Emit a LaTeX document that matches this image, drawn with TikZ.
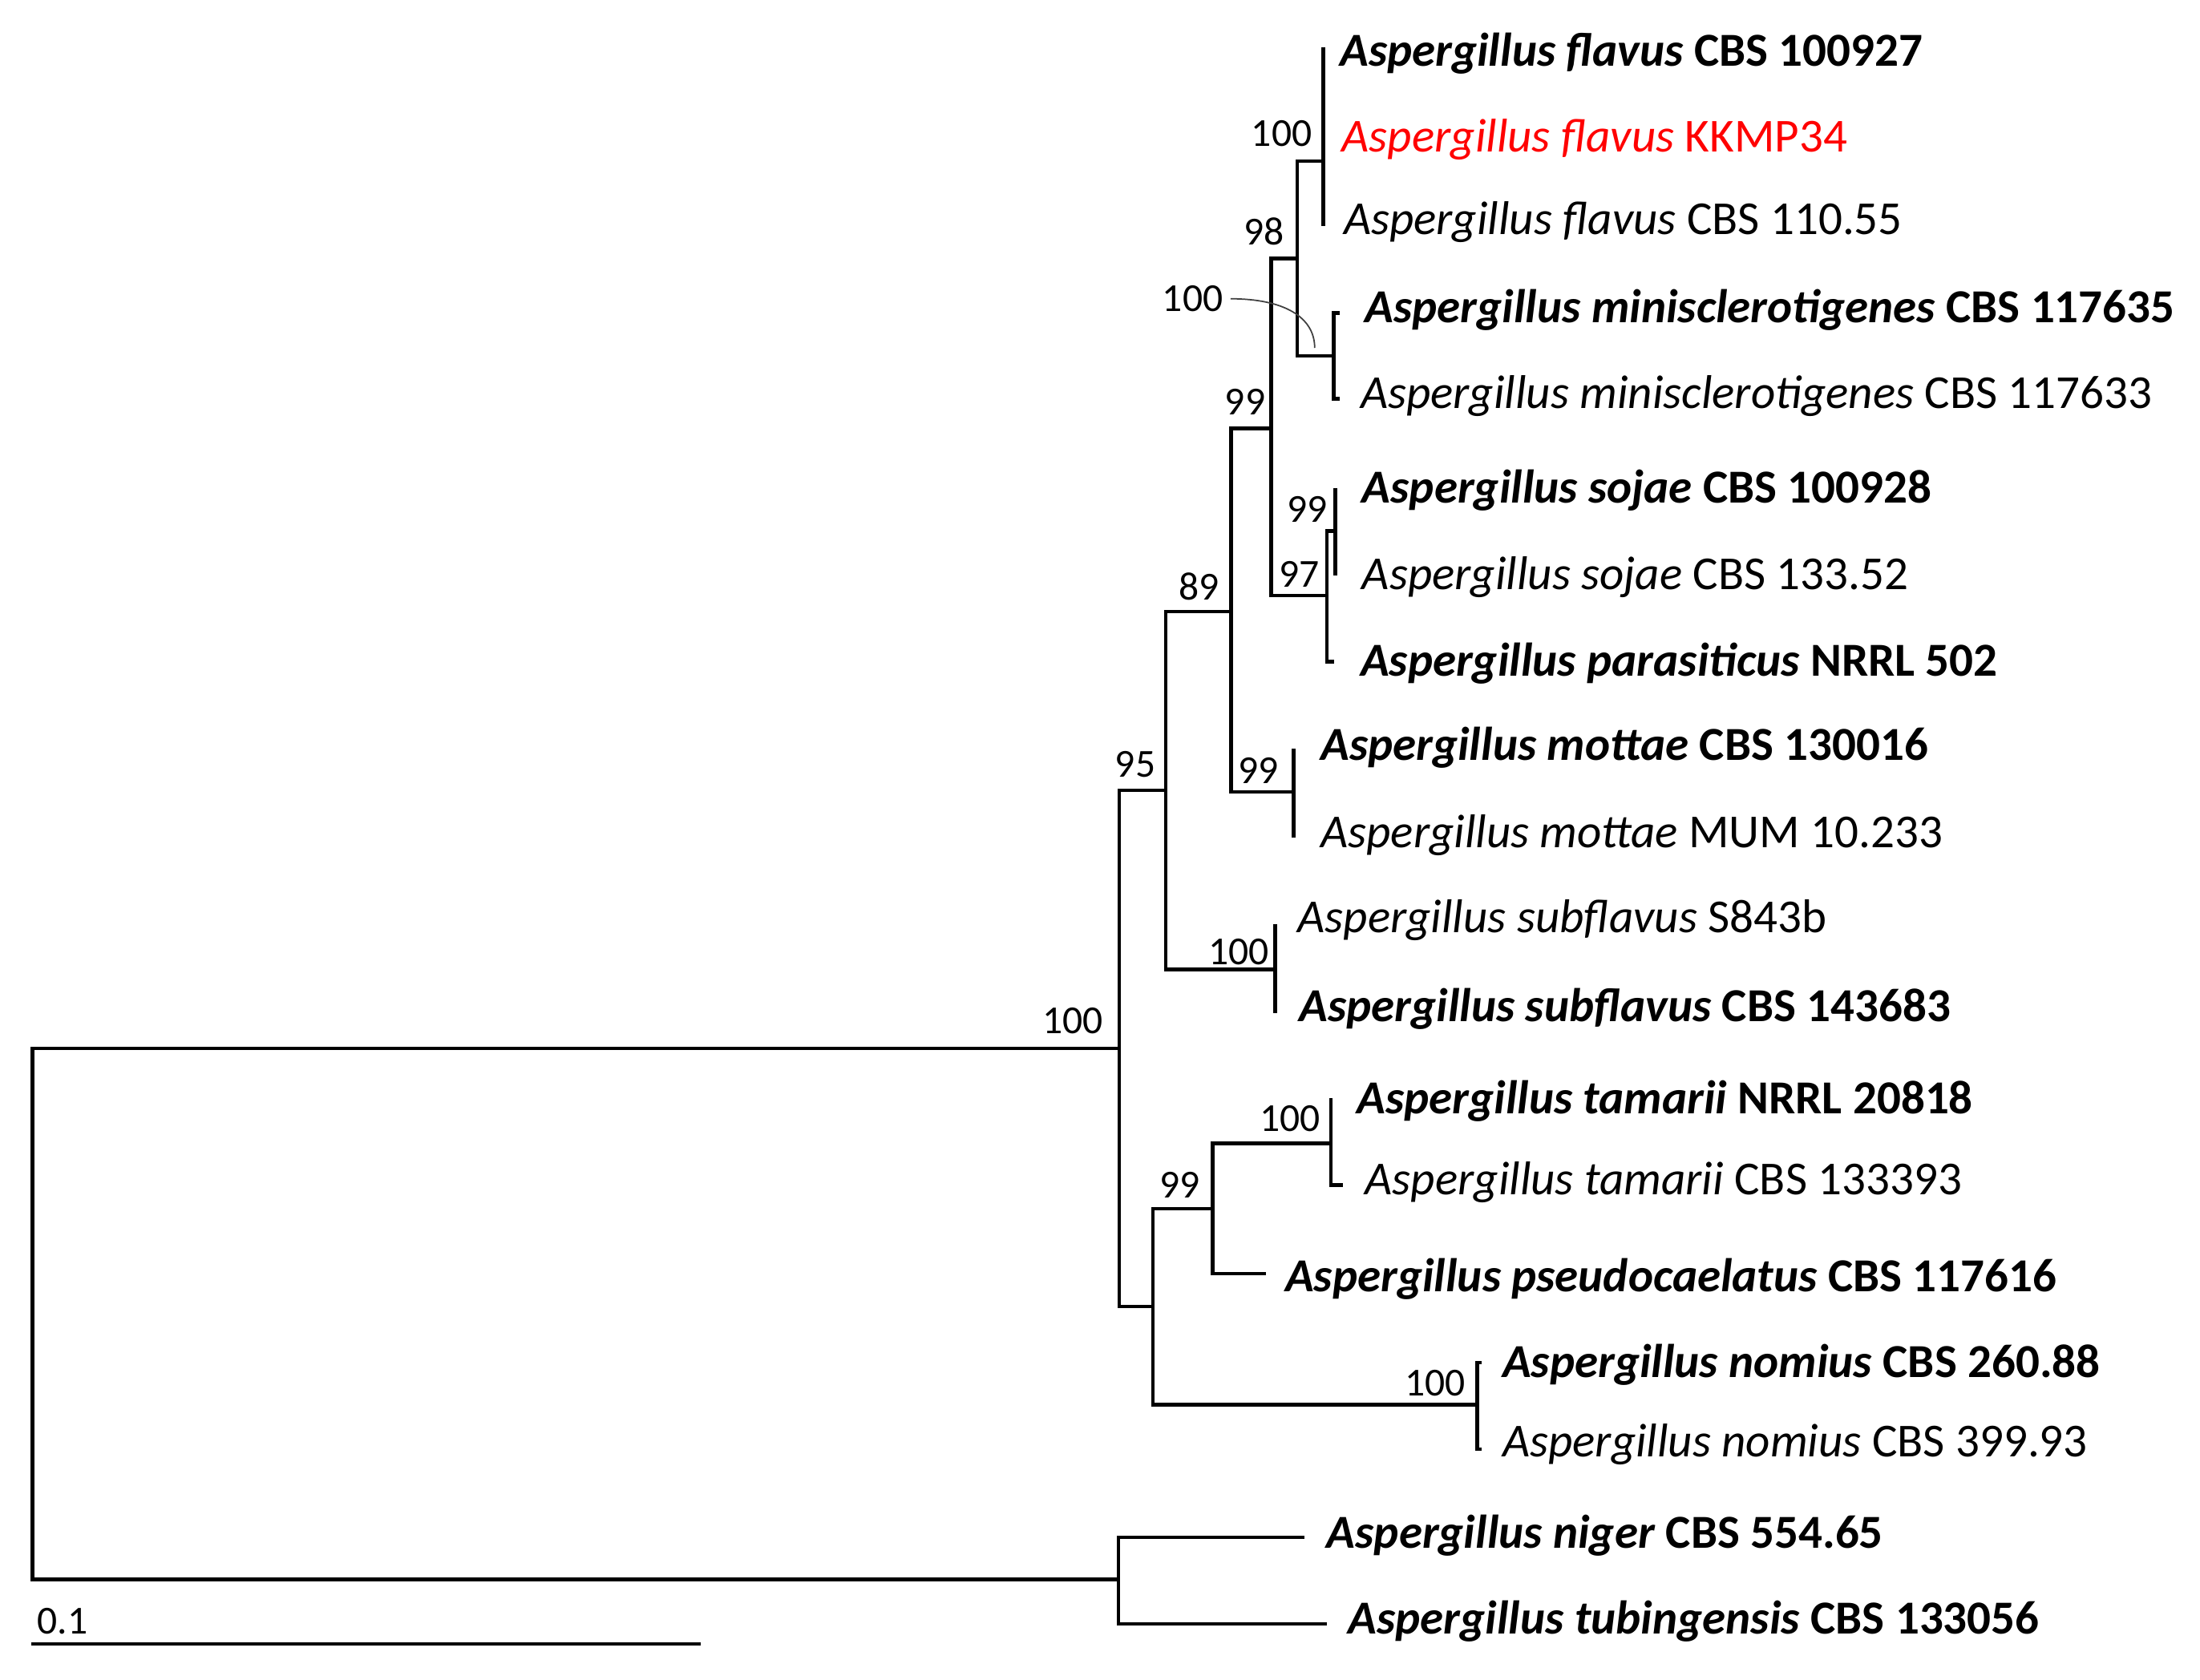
\documentclass[tikz,border=0pt]{standalone}
\usepackage{fontspec}
\setmainfont{Carlito}
\usetikzlibrary{calc,positioning}

\tikzset{
  br/.style={line width=1.3pt},
  tipbold/.style={anchor=west, inner sep=0pt, font=\fontsize{16.8}{20}\selectfont\bfseries},
  tipreg/.style={anchor=west, inner sep=0pt, font=\fontsize{16.8}{20}\selectfont},
  boot/.style={anchor=east, inner sep=0pt, font=\fontsize{14.1}{17}\selectfont},
}
\newcommand{\asp}[1]{\textit{Aspergillus #1}}

\begin{document}
\begin{tikzpicture}[x=0.0175cm, y=-0.0175cm]
\useasboundingbox (0,0) rectangle (1568,1197.7);

% inner nodes of the tree
\coordinate (root) at (23,937);
\coordinate (nA) at (797.6,747.4);
\coordinate (nOut) at (797.2,1126.1);
\coordinate (n95) at (830.9,563.4);
\coordinate (n89) at (877.5,436.1);
\coordinate (n99a) at (905.9,305.4);
\coordinate (n98) at (924.5,184.3);
\coordinate (nFlav) at (943.1,114.8);
\coordinate (nMin) at (950.7,253.7);
\coordinate (n97) at (945.7,424.6);
\coordinate (nSoj) at (951.8,378.6);
\coordinate (nMot) at (921.9,564.5);
\coordinate (nSub) at (908.7,691.2);
\coordinate (nB) at (821.7,931.4);
\coordinate (n99b) at (864.3,861.8);
\coordinate (nTam) at (948.5,815.2);
\coordinate (nNom) at (1053,1001.4);

\foreach \a/\b in {root/nA, root/nOut, nA/n95, nA/nB, n95/n89, n95/nSub,
  n89/n99a, n89/nMot, n99a/n98, n99a/n97, n98/nFlav, n98/nMin,
  n97/nSoj, nB/n99b, nB/nNom, n99b/nTam}
{
    \draw[br] (\a) |- (\b);
}

% type strains (bold)
\foreach \nm/\pa/\tx/\ty/\lx/\ly/\txt in
{flavA/nFlav/943.1/33.9/954.6/38.4/{\asp{flavus} CBS 100927},
 minA/nMin/955/223/972.6/221.1/{\asp{minisclerotigenes} CBS 117635},
 sojA/nSoj/951.8/348/970.4/349.6/{\asp{sojae} CBS 100928},
 paras/n97/951/471.6/969.3/472.9/{\asp{parasiticus} NRRL 502},
 motA/nMot/921.9/533.9/940.9/533/{\asp{mottae} CBS 130016},
 subB/nSub/908.7/722.3/925.6/719.2/{\asp{subflavus} CBS 143683},
 tamA/nTam/948.5/783.1/966.7/784.8/{\asp{tamarii} NRRL 20818},
 pseudo/n99b/902/908/915.7/912/{\asp{pseudocaelatus} CBS 117616},
 nomA/nNom/1055.7/971.5/1070.5/973.2/{\asp{nomius} CBS 260.88},
 niger/nOut/929.9/1096.1/945.2/1094.6/{\asp{niger} CBS 554.65},
 tub/nOut/945.7/1157.8/960.6/1155.8/{\asp{tubingensis} CBS 133056}}
{
    \coordinate (t\nm) at (\tx,\ty);
    \node[tipbold] (\nm) at (\lx,\ly) {\txt};
    \draw[br] (\pa) |- (t\nm);
}

% other strains
\foreach \nm/\pa/\tx/\ty/\lx/\ly/\txt in
{flavC/nFlav/943.1/161.4/957.3/158.4/{\asp{flavus} CBS 110.55},
 minB/nMin/955/284.3/969.3/282.4/{\asp{minisclerotigenes} CBS 117633},
 sojB/nSoj/951.8/410.3/970.4/411.7/{\asp{sojae} CBS 133.52},
 motB/nMot/921.9/597.3/940.9/595.4/{\asp{mottae} MUM 10.233},
 subA/nSub/908.7/658.9/924.5/655.8/{\asp{subflavus} S843b},
 tamB/nTam/957.3/844.7/972.6/842.8/{\asp{tamarii} CBS 133393},
 nomB/nNom/1055.7/1033.1/1070.5/1030/{\asp{nomius} CBS 399.93}}
{
    \coordinate (t\nm) at (\tx,\ty);
    \node[tipreg] (\nm) at (\lx,\ly) {\txt};
    \draw[br] (\pa) |- (t\nm);
}

% the isolate
\coordinate (tflavB) at (943.1,97);
\node[tipreg, text=red] (flavB) at (956,99.4) {\asp{flavus} KKMP34};
\draw[br] (nFlav) |- (tflavB);

% bootstrap values
\foreach \nm/\bx/\by/\val in
{nA/786.7/727.8/100, n95/823.9/544.8/95, n89/869.4/418/89, n99a/902.2/286.5/99,
 n98/915.7/165/98, nFlav/935.4/95/100, nMin/872/213/100, nSoj/946.3/363.3/99,
 n97/940.9/409.2/97, nMot/911.4/549.2/99, nSub/904.8/678.6/100,
 nTam/941.5/797.7/100, n99b/855.6/844.7/99, nNom/1044.8/986.1/100}
{
    \node[boot] (b\nm) at (\bx,\by) {\val};
}
\coordinate (cMin) at (937,248);
\draw[line width=0.5pt, black!75] ($(bnMin.east)+(5,0)$) .. controls (915,213) and (937,226) .. (cMin);

% scale bar
\coordinate (s0) at (22.3,1172.1);
\coordinate (s1) at (499.2,1172.1);
\draw[br] (s0) -- (s1);
\node[boot, anchor=west] (sLab) at (26.2,1155.7) {0.1};
\end{tikzpicture}
\end{document}
